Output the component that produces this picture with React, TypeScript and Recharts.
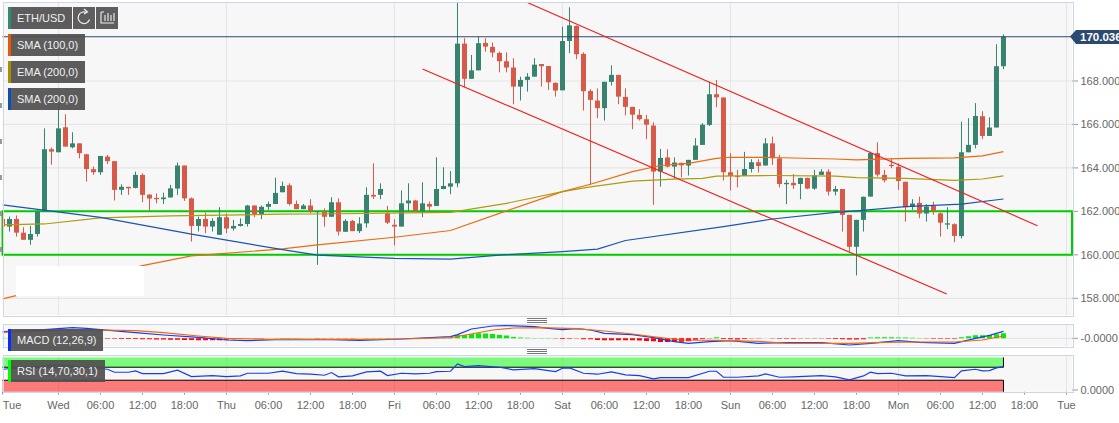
import { ComposedChart, Bar, Line, Cell, XAxis, YAxis, CartesianGrid, ReferenceArea, ReferenceLine } from "recharts";

// one candle per hour, hour 0 is the Tue 16:00 candle at the left edge
const candleOpen = [
  161.65, 161.30, 161.65, 161.02, 160.69, 160.96, 161.99, 164.86, 164.72, 165.87,
  164.95, 165.13, 164.63, 163.94, 163.80, 164.52, 164.31, 162.99, 163.13, 163.08,
  163.68, 162.77, 162.62, 162.56, 162.64, 163.05, 164.11, 162.60, 161.33, 161.65,
  161.30, 160.92, 161.73, 161.21, 161.33, 161.42, 162.27, 161.84, 162.21, 162.34,
  162.88, 163.20, 162.34, 162.10, 162.27, 161.98, 161.98, 161.75, 162.42, 161.06,
  161.56, 161.09, 161.45, 162.76, 162.76, 161.91, 161.38, 161.30, 162.37, 162.50,
  162.01, 162.34, 162.25, 163.03, 163.14, 163.29, 169.72, 168.10, 168.49, 169.75,
  169.57, 169.29, 168.91, 168.62, 167.74, 168.05, 168.20, 168.78, 168.69, 167.91,
  167.57, 169.84, 170.53, 169.25, 167.54, 167.10, 166.75, 167.96, 168.28, 167.27,
  166.81, 166.44, 166.24, 165.95, 163.83, 164.48, 164.06, 164.23, 164.11, 164.37,
  165.06, 165.98, 167.39, 167.24, 163.80, 163.63, 163.63, 163.95, 164.26, 164.11,
  165.13, 164.44, 163.25, 163.31, 163.26, 163.54, 163.05, 163.68, 163.83, 162.91,
  163.03, 161.84, 160.37, 161.61, 162.68, 164.68, 163.68, 164.14, 164.05, 163.36,
  162.21, 162.39, 161.90, 162.25, 161.91, 161.39, 161.41, 160.86, 164.72, 165.06,
  166.38, 165.47, 165.86, 168.68,
];
const candleClose = [
  161.30, 161.65, 161.02, 160.69, 160.96, 161.99, 164.86, 164.75, 165.82, 164.98,
  165.13, 164.68, 163.95, 163.80, 164.55, 164.31, 162.99, 163.13, 163.06, 163.68,
  162.76, 162.59, 162.56, 162.64, 163.06, 164.11, 162.60, 161.33, 161.65, 161.30,
  161.56, 161.73, 161.21, 161.33, 161.42, 162.27, 161.84, 162.21, 162.34, 162.85,
  163.17, 162.34, 162.10, 162.27, 162.01, 162.01, 161.75, 162.42, 161.07, 161.56,
  161.09, 161.44, 162.76, 162.68, 163.03, 161.48, 161.30, 162.37, 162.50, 162.01,
  162.37, 162.22, 163.03, 163.17, 163.29, 169.72, 168.10, 168.49, 169.74, 169.58,
  169.31, 168.91, 168.62, 167.74, 168.05, 168.20, 168.75, 168.68, 167.94, 167.56,
  169.84, 170.56, 169.23, 167.53, 167.13, 166.75, 167.96, 168.28, 167.28, 166.81,
  166.45, 166.24, 165.99, 163.83, 164.46, 164.06, 164.25, 164.12, 164.37, 165.03,
  165.99, 167.39, 167.25, 163.80, 163.63, 163.60, 163.95, 164.26, 164.09, 165.13,
  164.44, 163.26, 163.31, 163.20, 163.54, 163.05, 163.66, 163.83, 162.91, 163.03,
  161.84, 160.37, 161.61, 162.67, 164.68, 163.69, 163.43, 164.08, 163.40, 162.19,
  162.36, 161.90, 162.22, 162.02, 161.48, 161.45, 160.87, 164.72, 165.06, 166.39,
  165.47, 165.86, 168.68, 170.04,
];
const candleHigh = [
  161.76, 161.76, 161.81, 161.27, 161.33, 162.04, 165.82, 164.94, 167.05, 166.47,
  165.64, 165.13, 164.63, 164.06, 164.55, 164.60, 164.31, 163.25, 163.13, 163.83,
  163.75, 162.79, 162.83, 162.86, 163.22, 164.25, 164.11, 162.64, 161.76, 161.95,
  161.68, 162.19, 161.91, 161.61, 161.68, 162.30, 162.27, 162.27, 162.45, 163.55,
  163.37, 163.29, 162.50, 162.34, 162.56, 162.01, 162.14, 162.65, 162.60, 161.64,
  161.61, 161.73, 163.11, 164.21, 163.29, 162.25, 161.64, 162.96, 163.29, 162.53,
  163.34, 162.45, 164.49, 164.03, 163.85, 171.60, 169.97, 169.20, 170.04, 169.97,
  169.77, 169.35, 169.32, 169.05, 168.20, 168.36, 169.05, 168.78, 168.69, 167.94,
  170.50, 171.39, 170.56, 169.32, 167.62, 167.66, 167.97, 168.72, 168.28, 167.66,
  166.81, 166.70, 166.44, 166.10, 164.87, 164.86, 164.49, 164.25, 164.37, 165.37,
  166.06, 167.97, 168.05, 167.25, 164.68, 163.91, 164.74, 164.40, 164.40, 165.37,
  165.44, 164.60, 163.45, 163.72, 163.55, 163.55, 163.91, 163.94, 163.94, 163.17,
  163.03, 161.84, 161.61, 162.68, 164.75, 165.18, 163.91, 164.44, 164.21, 163.37,
  162.56, 162.68, 162.33, 162.44, 161.95, 162.19, 161.45, 166.13, 166.29, 166.98,
  166.61, 166.33, 169.69, 170.15,
];
const candleLow = [
  161.15, 161.07, 160.84, 160.69, 160.46, 160.84, 161.99, 164.15, 164.72, 164.98,
  164.90, 164.44, 163.37, 163.68, 163.68, 164.18, 162.50, 162.76, 162.76, 163.06,
  162.42, 162.02, 162.37, 162.34, 162.64, 162.76, 162.48, 160.61, 161.07, 161.00,
  161.07, 160.92, 161.00, 161.12, 161.30, 161.30, 161.73, 161.64, 162.07, 162.34,
  162.88, 162.27, 162.10, 162.10, 161.91, 159.54, 161.30, 161.75, 160.89, 161.06,
  161.09, 161.00, 161.25, 162.57, 162.56, 161.42, 160.43, 161.30, 161.99, 162.01,
  161.73, 162.01, 162.25, 163.02, 162.79, 163.11, 167.71, 168.10, 168.49, 169.35,
  169.09, 168.40, 168.40, 166.93, 167.10, 167.51, 168.20, 167.74, 167.59, 167.28,
  167.57, 169.28, 169.00, 166.64, 163.22, 166.29, 166.18, 167.79, 166.93, 166.42,
  165.78, 166.18, 165.32, 162.30, 163.14, 164.02, 163.52, 163.57, 163.65, 164.37,
  165.06, 165.93, 166.79, 163.42, 162.96, 163.10, 163.63, 163.79, 163.79, 164.11,
  164.14, 163.10, 162.33, 163.03, 162.56, 163.02, 162.99, 163.68, 162.73, 162.73,
  161.07, 160.15, 159.05, 161.07, 162.68, 163.60, 163.33, 163.99, 162.99, 161.53,
  162.07, 161.68, 161.53, 161.84, 160.84, 161.18, 160.58, 160.75, 164.72, 164.90,
  165.32, 165.47, 165.86, 168.54,
];

// moving averages, read at the hours where the line bends
const sma100Hours = [0, 20, 27, 40, 45, 56, 64, 72, 80, 84, 90, 94, 98, 102, 104, 110, 119, 122, 129, 136, 140, 143];
const sma100Values = [157.97, 159.5, 159.95, 160.27, 160.46, 160.81, 161.12, 162.02, 162.91, 163.25, 163.83, 164.11, 164.21, 164.44, 164.49, 164.48, 164.41, 164.37, 164.44, 164.46, 164.55, 164.75];
const ema200Hours = [0, 6, 14, 24, 40, 45, 64, 72, 80, 84, 90, 96, 100, 102, 110, 119, 122, 129, 136, 140, 143];
const ema200Values = [161.38, 161.42, 161.7, 161.79, 161.87, 161.88, 161.95, 162.37, 162.91, 163.13, 163.39, 163.48, 163.52, 163.62, 163.65, 163.62, 163.55, 163.52, 163.43, 163.49, 163.63];
const sma200Hours = [0, 14, 27, 40, 45, 56, 64, 71, 80, 85, 89, 103, 110, 119, 122, 129, 137, 143];
const sma200Values = [162.3, 161.72, 160.95, 160.24, 159.99, 159.84, 159.8, 159.99, 160.15, 160.26, 160.66, 161.3, 161.65, 161.95, 162.02, 162.22, 162.33, 162.57];

// MACD panel (scaled display units)
const macdHours = [0, 4, 8, 10, 12, 14, 19, 23, 28, 32, 35, 40, 47, 51, 57, 64, 65, 67, 70, 72, 76, 78, 80, 82, 84, 86, 90, 93, 96, 98, 101, 104, 108, 112, 117, 121, 124, 128, 131, 136, 139, 141, 143];
const macdValues = [6.7, 7.7, 9.7, 10.7, 10, 8.7, 5.7, 3.3, 1, -1.7, -2.3, -1, -1.3, -2, -0.7, 1.7, 3.7, 9.3, 12.3, 12.7, 11.7, 10, 8.7, 9.7, 8.3, 5, 3.7, 0.7, -3.3, -5, -3.3, -2.3, -5, -4.3, -4.3, -6.7, -5, -2.3, -4, -5, 0, 3, 7];
const signalHours = [0, 8, 14, 19, 23, 28, 32, 38, 47, 52, 57, 64, 67, 70, 73, 77, 82, 86, 90, 94, 97, 102, 104, 108, 112, 117, 121, 126, 131, 136, 140, 143];
const signalValues = [6, 8, 8.3, 7.7, 5.7, 2.3, 0, -1, -1, -1, -0.7, 0.7, 4.3, 8.3, 10.3, 10.7, 9.7, 7.3, 4.3, 0.7, -1.7, -2, -2.3, -3, -5, -5, -5, -4, -3.7, -3.7, -1.7, 2.3];
const histValues = [
  0.5, 0.4, 0.3, 0.2, 0.2, 0.1, 0.1, 0.1, -0.1, -0.1,
  -0.2, -0.2, -0.3, -0.3, -0.3, -0.4, -0.5, -0.7, -0.7, -0.8,
  -1, -1, -1.3, -1.3, -1.5, -1.5, -1.7, -1.7, -2, -2,
  -2, -2, -1.5, -1, -0.5, -0.3, -0.2, -0.1, 0.1, 0.2,
  0.4, 0.3, 0.2, 0.1, 0.1, -0.1, -0.1, -0.2, -0.2, -0.1,
  -0.1, 0.1, 0.2, 0.2, 0.4, 0.2, 0.1, 0.1, 0.1, 0.1,
  0.1, 0.1, 0.2, 0.3, 0.5, 3.3, 3.3, 4.3, 5, 4.7,
  4.3, 3.3, 2.7, 1.3, 0.7, 0.5, 0.3, 0.2, 0.2, -0.3,
  -0.7, -0.5, -0.3, -1, -1, -1.7, -2, -2, -2, -2,
  -2, -2.3, -2.7, -3, -3.7, -3.7, -3.7, -3.5, -3, -1.5,
  -0.7, -0.3, 1, -0.7, -1, -1.2, -0.8, -0.2, -0.2, 0.1,
  -0.2, -0.4, -0.4, -0.4, -0.3, -0.3, -0.2, -0.3, -0.5, -0.7,
  -1, -1.3, -1.3, -1, 0.7, 1, 1, 1, 0.8, 0.7,
  0.5, 0.3, -0.3, -0.5, -0.5, -0.5, -0.5, 1, 2, 3,
  3, 3.3, 4, 5,
];

// RSI panel
const rsiHours = [0, 8, 15, 16, 18, 19, 20, 23, 25, 27, 30, 32, 34, 35, 38, 40, 42, 44, 46, 47, 48, 50, 52, 54, 55, 57, 59, 61, 62, 64, 65, 66, 68, 71, 73, 76, 79, 80, 81, 83, 85, 87, 89, 91, 93, 94, 98, 101, 102, 103, 105, 108, 109, 111, 113, 117, 119, 121, 123, 124, 125, 127, 129, 132, 136, 137, 139, 140, 141, 142, 143];
const rsiValues = [63.8, 77.2, 63.8, 54.6, 54.6, 58.7, 50.5, 50.5, 60.8, 41.3, 44.4, 41.3, 43.3, 51.5, 51.5, 57.7, 50.5, 48.5, 45.4, 53.6, 40.3, 43.3, 55.6, 57.7, 44.4, 51.5, 49.5, 51.5, 56.7, 57.7, 80.3, 72, 75.1, 70, 61.8, 65.9, 56.7, 66.9, 68, 51.5, 48.5, 55.6, 46.4, 44.4, 34.1, 38.2, 38.2, 57.7, 57.7, 39.2, 39.2, 43.3, 49.5, 39.2, 40.3, 44.4, 40.3, 31, 43.3, 54.6, 50.5, 51.5, 43.3, 44.4, 38.2, 58.7, 63.8, 58.7, 59.7, 68, 72];

const priceTicks = [158, 160, 162, 164, 166, 168];
const lastPrice = 170.036;
const dayHours = [8, 32, 56, 80, 104, 128, 152];
const timeTicks = [0, 8, 14, 20, 26, 32, 38, 44, 50, 56, 62, 68, 74, 80, 86, 92, 98, 104, 110, 116, 122, 128, 134, 140, 146, 152];
const timeLabels = ["Tue", "Wed", "06:00", "12:00", "18:00", "Thu", "06:00", "12:00", "18:00", "Fri", "06:00", "12:00", "18:00", "Sat", "06:00", "12:00", "18:00", "Sun", "06:00", "12:00", "18:00", "Mon", "06:00", "12:00", "18:00", "Tue"];

const channelUpper = [{ x: 75.05, y: 171.6 }, { x: 147.86, y: 161.34 }];
const channelLower = [{ x: 60, y: 168.55 }, { x: 134.9, y: 158.2 }];

const W = 1119;
const H = 423;
const X_DOMAIN = [0, 152.79];
const GREEN = "#37836f";
const RED = "#d75a49";
const TICK = "#666666";
const FONT = "'Liberation Sans', Arial, sans-serif";

function pick(hours: number[], values: number[], h: number) {
  const i = hours.indexOf(h);
  return i >= 0 ? values[i] : null;
}

const rows = candleOpen.map((open, h) => ({
  h,
  open,
  close: candleClose[h],
  high: candleHigh[h],
  low: candleLow[h],
  sma100: pick(sma100Hours, sma100Values, h),
  ema200: pick(ema200Hours, ema200Values, h),
  sma200: pick(sma200Hours, sma200Values, h),
  macd: pick(macdHours, macdValues, h),
  signal: pick(signalHours, signalValues, h),
  hist: histValues[h],
  rsi: pick(rsiHours, rsiValues, h),
}));

function Candle(props: any) {
  const { x, y, width, height, payload } = props;
  const cx = x + width / 2;
  const perUnit = height / (payload.high - payload.low);
  const top = y + (payload.high - Math.max(payload.open, payload.close)) * perUnit;
  const bottom = y + (payload.high - Math.min(payload.open, payload.close)) * perUnit;
  const color = payload.close >= payload.open ? GREEN : RED;
  return (
    <g>
      <line x1={cx} x2={cx} y1={y} y2={y + height} stroke={color} strokeWidth={1} />
      <rect x={cx - 2.5} y={top} width={5} height={Math.max(bottom - top, 1)} fill={color} />
    </g>
  );
}

function TimeTick(props: any) {
  const { x, y, payload } = props;
  const i = timeTicks.indexOf(payload.value);
  return (
    <text x={i === 0 ? x + 9.5 : x} y={y + 12} textAnchor="middle" fontSize={11} fill={TICK} fontFamily={FONT}>
      {timeLabels[i]}
    </text>
  );
}

function Tag({ label, color, left, top, width }: any) {
  return (
    <div
      style={{
        position: "absolute",
        left,
        top,
        width,
        height: 22,
        background: "rgba(80,80,80,0.93)",
        color: "#f0f0f0",
        fontFamily: FONT,
        fontSize: 11,
        lineHeight: "22px",
        boxSizing: "border-box",
        paddingLeft: 6,
        borderLeft: `3px solid ${color}`,
        whiteSpace: "nowrap",
      }}
    >
      {label}
    </div>
  );
}

function Grip({ top }: { top: number }) {
  return (
    <div style={{ position: "absolute", left: 527, top, width: 20, height: 3, borderTop: "1px solid #777", borderBottom: "1px solid #777" }}>
      <div style={{ height: 1, marginTop: 1, background: "#777" }} />
    </div>
  );
}

const layer: React.CSSProperties = { position: "absolute", left: 0, top: 0 };
const leftMarks = [69, 105, 141, 177, 213, 249];

export default function App() {
  return (
    <div style={{ position: "absolute", left: 0, top: 0, width: W, height: H, overflow: "hidden", background: "#fff" }}>
      <div style={layer}>
        <ComposedChart width={W} height={H} data={rows} margin={{ top: 2.5, right: 0, bottom: 108, left: 2.5 }}>
          <CartesianGrid fill="#f7f7f7" stroke="#e6e6e6" strokeWidth={1.2} horizontalValues={priceTicks} verticalValues={dayHours} />
          <XAxis type="number" dataKey="h" domain={X_DOMAIN} allowDataOverflow hide />
          <YAxis
            orientation="right"
            type="number"
            domain={[157.231, 171.612]}
            allowDataOverflow
            ticks={priceTicks}
            interval={0}
            width={47}
            axisLine={false}
            tickSize={6}
            tickMargin={2.5}
            tickLine={{ stroke: "#999" }}
            tick={{ fontSize: 11, fill: TICK, fontFamily: FONT }}
            tickFormatter={(v: number) => v.toFixed(3)}
          />
          <ReferenceLine y={lastPrice} stroke="#2c4a70" strokeWidth={1.2} />
          <Bar dataKey={(r: any) => [r.low, r.high]} barSize={5} shape={<Candle />} isAnimationActive={false} />
          <Line dataKey="sma100" stroke="#ee6a10" strokeWidth={1.2} dot={false} connectNulls isAnimationActive={false} />
          <Line dataKey="ema200" stroke="#b09a10" strokeWidth={1.2} dot={false} connectNulls isAnimationActive={false} />
          <Line dataKey="sma200" stroke="#1a55b0" strokeWidth={1.2} dot={false} connectNulls isAnimationActive={false} />
          <ReferenceLine segment={channelUpper} stroke="#f02020" strokeWidth={1.2} ifOverflow="visible" />
          <ReferenceLine segment={channelLower} stroke="#f02020" strokeWidth={1.2} ifOverflow="visible" />
          <ReferenceArea x1={X_DOMAIN[0]} x2={X_DOMAIN[1]} y1={160} y2={162} fill="none" stroke="#00cc00" strokeWidth={2} fillOpacity={0} />
        </ComposedChart>
      </div>

      <div style={layer}>
        <ComposedChart width={W} height={H} data={rows} margin={{ top: 324.5, right: 0, bottom: 77, left: 2.5 }}>
          <CartesianGrid fill="#f7f7f7" stroke="#e6e6e6" strokeWidth={1.2} horizontalValues={[0]} verticalValues={dayHours} />
          <XAxis type="number" dataKey="h" domain={X_DOMAIN} allowDataOverflow hide />
          <YAxis
            orientation="right"
            type="number"
            domain={[-7.7, 13.8]}
            allowDataOverflow
            ticks={[0]}
            width={47}
            axisLine={false}
            tickSize={6}
            tickMargin={2.5}
            tickLine={{ stroke: "#999" }}
            tick={{ fontSize: 11, fill: TICK, fontFamily: FONT }}
            tickFormatter={() => "-0.0000"}
          />
          <Bar dataKey="hist" barSize={5} isAnimationActive={false}>
            {rows.map((r) => (
              <Cell key={r.h} fill={r.hist >= 0 ? "#00ee00" : "#ff0000"} />
            ))}
          </Bar>
          <Line dataKey="macd" stroke="#1a3cf0" strokeWidth={1.2} dot={false} connectNulls isAnimationActive={false} />
          <Line dataKey="signal" stroke="#ee6a10" strokeWidth={1.2} dot={false} connectNulls isAnimationActive={false} />
        </ComposedChart>
      </div>

      <div style={layer}>
        <ComposedChart width={W} height={H} data={rows} margin={{ top: 355.7, right: 0, bottom: 0, left: 2.5 }}>
          <CartesianGrid fill="#f7f7f7" stroke="#e6e6e6" strokeWidth={1.2} horizontal={false} verticalValues={dayHours} />
          <XAxis
            type="number"
            dataKey="h"
            domain={X_DOMAIN}
            allowDataOverflow
            ticks={timeTicks}
            interval={0}
            height={31.3}
            axisLine={false}
            tickSize={3}
            tickLine={{ stroke: "#999" }}
            tick={<TimeTick />}
          />
          <YAxis
            orientation="right"
            type="number"
            domain={[-5.3, 105.5]}
            allowDataOverflow
            ticks={[0]}
            width={47}
            axisLine={false}
            tickSize={6}
            tickMargin={2.5}
            tickLine={{ stroke: "#999" }}
            tick={{ fontSize: 11, fill: TICK, fontFamily: FONT }}
            tickFormatter={(v: number) => v.toFixed(4)}
          />
          <ReferenceArea x1={0} x2={143} y1={70} y2={100} fill="#00ff00" fillOpacity={0.5} stroke="none" />
          <ReferenceArea x1={0} x2={143} y1={-5.3} y2={30} fill="#ff0000" fillOpacity={0.5} stroke="none" />
          <ReferenceLine segment={[{ x: 0, y: 70 }, { x: 143, y: 70 }]} stroke="#000" />
          <ReferenceLine segment={[{ x: 0, y: 30 }, { x: 143, y: 30 }]} stroke="#000" />
          <ReferenceLine segment={[{ x: 143, y: 70 }, { x: 143, y: 100 }]} stroke="#000" />
          <ReferenceLine segment={[{ x: 143, y: -5.3 }, { x: 143, y: 30 }]} stroke="#000" />
          <Line dataKey="rsi" stroke="#1a3cf0" strokeWidth={1.2} dot={false} connectNulls isAnimationActive={false} />
        </ComposedChart>
      </div>

      {/* panel borders */}
      <div style={{ position: "absolute", left: 3, top: 2, width: 1069, height: 313, border: "1px solid #ccd6eb", borderLeftColor: "#d8d8d8" }} />
      <div style={{ position: "absolute", left: 3, top: 324, width: 1069, height: 22, border: "1px solid #ccd6eb" }} />
      <div style={{ position: "absolute", left: 3, top: 355, width: 1069, height: 36, border: "1px solid #ccd6eb" }} />
      <Grip top={318} />
      <Grip top={349} />

      {/* cut off marks at the left edge of the source picture */}
      {leftMarks.map((y) => (
        <div key={y} style={{ position: "absolute", left: 0, top: y - 2, width: 2, height: 5, background: "#999" }} />
      ))}

      {/* blanked out area in the source picture */}
      <div style={{ position: "absolute", left: 16, top: 266, width: 128, height: 30, background: "#fff" }} />

      <Tag label="ETH/USD" color="#2e8b74" left={8} top={7} width={64} />
      <Tag label="SMA (100,0)" color="#e65a00" left={8} top={34} width={77} />
      <Tag label="EMA (200,0)" color="#a89000" left={8} top={61} width={77} />
      <Tag label="SMA (200,0)" color="#0b4fb0" left={8} top={88} width={77} />
      <Tag label="MACD (12,26,9)" color="#0a2cff" left={8} top={329} width={95} />
      <Tag label="RSI (14,70,30,1)" color="#00ff00" left={8} top={360} width={97} />

      <svg style={{ position: "absolute", left: 0, top: 0 }} width={W} height={H}>
        <rect x={73} y={7} width={22} height={22} fill="#5e5e5e" />
        <path d="M89.5 19.5 a5.8 5.8 0 1 1 -3 -7" fill="none" stroke="#eee" strokeWidth={1.2} />
        <path d="M84 9 l3.5 3 l-3.5 2" fill="none" stroke="#eee" strokeWidth={1.2} />
        <rect x={96} y={7} width={22} height={22} fill="#5e5e5e" />
        <path d="M101 12 h3 M101 12 v11 h13 M105 15 v6 M108 13 v8 M111 15 v6 M114 13 v8" fill="none" stroke="#eee" strokeWidth={1.1} />
        <polygon points="1070,36.5 1076,30 1119,30 1119,44 1076,44" fill="#2c4a70" />
        <text x={1080} y={41} fontSize={11.5} fontWeight="bold" fill="#fff" fontFamily={FONT}>
          {lastPrice.toFixed(3)}
        </text>
      </svg>
    </div>
  );
}
